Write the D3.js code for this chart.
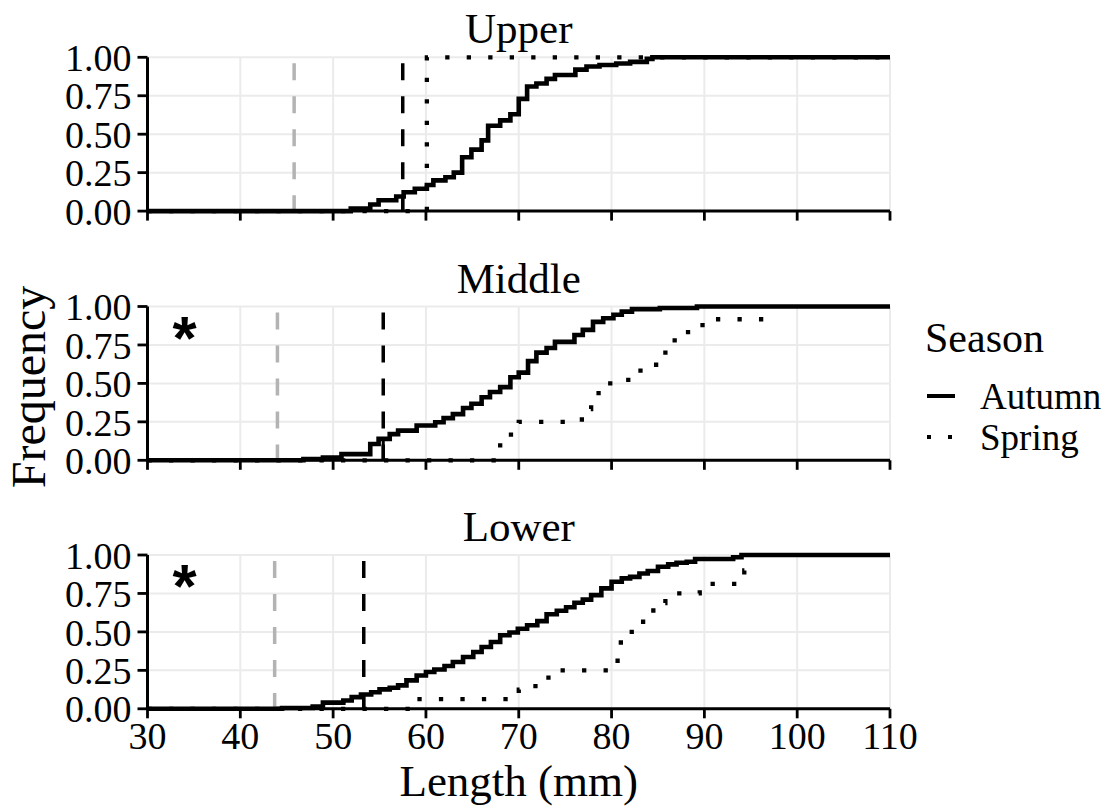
<!DOCTYPE html>
<html><head><meta charset="utf-8">
<script src="https://cdn.jsdelivr.net/npm/d3@7"></script>
<style>
body{margin:0;background:#fff}
text{font-family:"Liberation Serif","Times New Roman",serif;fill:#000}
</style>
</head><body>
<svg id="chart" width="1103" height="807"></svg>
<script>
// ---------- data ----------
const panelNames = ["Upper", "Middle", "Lower"];
const seasons = ["Autumn", "Spring"];
const xTicks = [30, 40, 50, 60, 70, 80, 90, 100, 110];
const yTicks = [0, 0.25, 0.5, 0.75, 1];
const yTickLabels = ["0.00", "0.25", "0.50", "0.75", "1.00"];

// step positions (mm) and cumulative frequency after each step
const upperAutumnX = [51.9, 54.0, 54.9, 56.8, 57.6, 58.8, 60.1, 60.8, 62.1, 63.0, 63.9, 64.9, 66.0, 66.7, 68.0, 69.1, 70.0, 70.9, 71.9, 73.0, 73.9, 76.1, 77.3, 78.7, 80.5, 82.0, 83.8, 84.4, 110];
const upperAutumnY = [0.016, 0.043, 0.071, 0.095, 0.123, 0.145, 0.17, 0.20, 0.22, 0.25, 0.35, 0.40, 0.46, 0.555, 0.59, 0.63, 0.73, 0.81, 0.83, 0.86, 0.885, 0.92, 0.94, 0.95, 0.96, 0.97, 0.99, 1.0, 1.0];
const upperSpringX = [60.1, 110];
const upperSpringY = [1.0, 1.0];

const middleAutumnX = [46.8, 48.9, 50.9, 54.0, 54.9, 56.1, 57.0, 59.0, 61.0, 61.9, 62.9, 64.0, 64.9, 66.0, 66.9, 68.0, 69.1, 70.0, 71.0, 71.9, 73.0, 73.9, 76.0, 76.9, 78.0, 79.1, 80.2, 81.1, 82.2, 85.2, 89.2, 110];
const middleAutumnY = [0.008, 0.018, 0.04, 0.106, 0.139, 0.17, 0.193, 0.226, 0.247, 0.274, 0.30, 0.34, 0.368, 0.41, 0.444, 0.476, 0.54, 0.57, 0.645, 0.70, 0.73, 0.77, 0.815, 0.848, 0.90, 0.924, 0.946, 0.967, 0.983, 0.99, 1.0, 1.0];
const middleSpringX = [68.0, 70.0, 76.8, 77.8, 78.6, 81.8, 84.8, 85.8, 86.8, 89.8, 97.4];
const middleSpringY = [0.167, 0.25, 0.333, 0.417, 0.5, 0.583, 0.667, 0.75, 0.833, 0.917, 0.917];

const lowerAutumnX = [44.5, 47.8, 48.9, 51.1, 52.0, 53.0, 54.1, 55.0, 56.1, 57.0, 57.9, 59.0, 60.0, 60.9, 62.0, 62.9, 64.0, 65.1, 66.0, 67.0, 68.0, 69.0, 69.9, 70.9, 72.0, 73.0, 74.1, 75.1, 76.0, 76.9, 77.8, 78.9, 80.0, 81.1, 82.0, 83.0, 83.9, 85.0, 86.1, 87.0, 88.1, 89.0, 93.1, 94.0, 110];
const lowerAutumnY = [0.005, 0.015, 0.04, 0.054, 0.076, 0.093, 0.108, 0.126, 0.137, 0.152, 0.185, 0.217, 0.239, 0.256, 0.278, 0.304, 0.337, 0.369, 0.402, 0.434, 0.478, 0.496, 0.52, 0.543, 0.57, 0.615, 0.638, 0.66, 0.69, 0.71, 0.739, 0.783, 0.826, 0.848, 0.858, 0.88, 0.896, 0.924, 0.939, 0.95, 0.956, 0.974, 0.985, 1.0, 1.0];
const lowerSpringX = [58.4, 70.0, 71.8, 73.2, 79.9, 81.0, 83.4, 84.5, 85.8, 89.5, 94.3, 95.0];
const lowerSpringY = [0.0625, 0.125, 0.1875, 0.25, 0.3125, 0.5, 0.625, 0.6875, 0.75, 0.8125, 0.9, 0.9];

const greyRefLength = [45.8, 44.0, 43.7];
const blackRefLength = [57.5, 55.4, 53.3];
const starFlag = [false, true, true];
const starPos = [34, 0.85];

const autumnSeries = [[upperAutumnX, upperAutumnY], [middleAutumnX, middleAutumnY], [lowerAutumnX, lowerAutumnY]];
const springSeries = [[upperSpringX, upperSpringY], [middleSpringX, middleSpringY], [lowerSpringX, lowerSpringY]];

// ---------- layout ----------
const svg = d3.select("#chart");
const left = 147.5, right = 890;
const panelTops = [57.3, 306.5, 555];
const panelH = 153.8;

const x = d3.scaleLinear().domain([30, 110]).range([left, right]);

function stepPoints(xs, ys) {
  const pts = [[30, 0]];
  xs.forEach((v, i) => pts.push([v, ys[i]]));
  return pts;
}
function ecdfAt(xs, ys, v) {
  let val = 0;
  xs.forEach((xx, i) => { if (xx <= v) val = ys[i]; });
  return val;
}

panelNames.forEach((name, p) => {
  const top = panelTops[p];
  const y = d3.scaleLinear().domain([0, 1]).range([top + panelH, top]);
  const g = svg.append("g");

  // grid
  g.selectAll(".gx").data(xTicks).join("line")
    .attr("x1", d => x(d)).attr("x2", d => x(d))
    .attr("y1", y(0)).attr("y2", y(1))
    .attr("stroke", "#ebebeb").attr("stroke-width", 2);
  g.selectAll(".gy").data(yTicks).join("line")
    .attr("x1", x(30)).attr("x2", x(110))
    .attr("y1", d => y(d)).attr("y2", d => y(d))
    .attr("stroke", "#ebebeb").attr("stroke-width", 2);

  // strip title
  g.append("text").attr("x", (left + right) / 2).attr("y", top - 14)
    .attr("text-anchor", "middle").style("font-size", "43px").text(name);

  // reference lines
  g.append("line").attr("x1", x(greyRefLength[p])).attr("x2", x(greyRefLength[p]))
    .attr("y1", y(1)).attr("y2", y(0))
    .attr("stroke", "#b3b3b3").attr("stroke-width", 3.5)
    .attr("stroke-dasharray", "17,16").attr("stroke-dashoffset", 27);
  g.append("line").attr("x1", x(blackRefLength[p])).attr("x2", x(blackRefLength[p]))
    .attr("y1", y(1)).attr("y2", y(0))
    .attr("stroke", "#000").attr("stroke-width", 3.5)
    .attr("stroke-dasharray", "17,16").attr("stroke-dashoffset", 27);
  const [ax, ay] = autumnSeries[p];
  g.append("line").attr("x1", x(blackRefLength[p])).attr("x2", x(blackRefLength[p]))
    .attr("y1", y(0)).attr("y2", y(ecdfAt(ax, ay, blackRefLength[p])))
    .attr("stroke", "#000").attr("stroke-width", 3);

  const line = d3.line().x(d => x(d[0])).y(d => y(d[1])).curve(d3.curveStepAfter);

  // spring (dotted)
  const [sx, sy] = springSeries[p];
  g.append("path").attr("d", line(stepPoints(sx, sy)))
    .attr("fill", "none").attr("stroke", "#000").attr("stroke-width", 4.3)
    .attr("stroke-dasharray", "4.3,17.2");

  // autumn (solid)
  g.append("path").attr("d", line(stepPoints(ax, ay)))
    .attr("fill", "none").attr("stroke", "#000").attr("stroke-width", 4.6)
    .attr("stroke-linejoin", "miter");

  // axes
  g.append("line").attr("x1", left).attr("x2", right).attr("y1", y(0)).attr("y2", y(0))
    .attr("stroke", "#000").attr("stroke-width", 3);
  g.append("line").attr("x1", left).attr("x2", left).attr("y1", y(0) + 1.5).attr("y2", y(1))
    .attr("stroke", "#000").attr("stroke-width", 3);
  g.selectAll(".tx").data(xTicks).join("line")
    .attr("x1", d => x(d)).attr("x2", d => x(d))
    .attr("y1", y(0)).attr("y2", y(0) + 9.5)
    .attr("stroke", "#000").attr("stroke-width", 2.8);
  g.selectAll(".ty").data(yTicks).join("line")
    .attr("x1", left - 10).attr("x2", left)
    .attr("y1", d => y(d)).attr("y2", d => y(d))
    .attr("stroke", "#000").attr("stroke-width", 2.8);
  g.selectAll(".tyl").data(yTicks).join("text")
    .attr("x", left - 16).attr("y", d => y(d)).attr("dy", "0.36em")
    .attr("text-anchor", "end").style("font-size", "38px")
    .text((d, i) => yTickLabels[i]);

  if (p === 2) {
    g.selectAll(".txl").data(xTicks).join("text")
      .attr("x", d => x(d)).attr("y", y(0) + 40)
      .attr("text-anchor", "middle").style("font-size", "38px")
      .text(d => d);
  }

  if (starFlag[p]) {
    g.append("text").attr("x", x(starPos[0])).attr("y", y(starPos[1]) + 29)
      .attr("text-anchor", "middle")
      .style("font-family", "'Liberation Sans', Arial, sans-serif")
      .style("font-weight", "bold").style("font-size", "62px").text("*");
  }
});

// axis titles
svg.append("text").attr("x", (left + right) / 2).attr("y", 796)
  .attr("text-anchor", "middle").style("font-size", "45px").text("Length (mm)");
svg.append("text").attr("transform", "translate(45,387) rotate(-90)")
  .attr("text-anchor", "middle").style("font-size", "48px").text("Frequency");

// legend
const lg = svg.append("g");
lg.append("text").attr("x", 925).attr("y", 352).style("font-size", "42px").text("Season");
const keyY = [396, 437];
seasons.forEach((s, i) => {
  lg.append("line").attr("x1", 927).attr("x2", 955).attr("y1", keyY[i]).attr("y2", keyY[i])
    .attr("stroke", "#000").attr("stroke-width", 4)
    .attr("stroke-dasharray", i === 0 ? null : "4,17");
  lg.append("text").attr("x", 980).attr("y", keyY[i] + 13).style("font-size", "37px").text(s);
});
</script>
</body></html>
